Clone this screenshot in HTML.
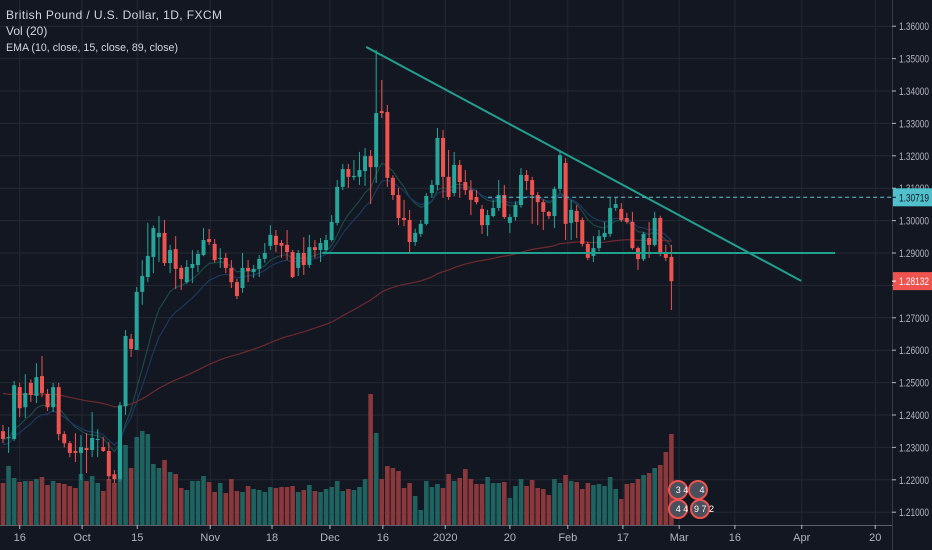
<!DOCTYPE html>
<html><head><meta charset="utf-8"><style>
html,body{margin:0;padding:0;background:#131722;}
svg{display:block;font-family:"Liberation Sans",sans-serif;}
</style></head><body>
<svg id="chart" width="932" height="550" viewBox="0 0 932 550" xmlns="http://www.w3.org/2000/svg">
<rect width="932" height="550" fill="#131722"/>
<g id="grid"></g>
<g id="vol"></g>
<g id="ema"></g>
<g id="candles"></g>
<g id="draw"></g>
<g id="axes"></g>
<text x="6" y="19" fill="#d1d4dc" font-size="12" textLength="216">British Pound / U.S. Dollar, 1D, FXCM</text>
<text x="6" y="35" fill="#d1d4dc" font-size="12">Vol (20)</text>
<text x="6" y="51" fill="#d1d4dc" font-size="11" textLength="172" lengthAdjust="spacingAndGlyphs">EMA (10, close, 15, close, 89, close)</text>
</svg>
<script>
const opens=[1.2350,1.2329,1.2326,1.2486,1.2424,1.2499,1.2459,1.2520,1.2465,1.2424,
1.2486,1.2341,1.2313,1.2289,1.2283,1.2298,1.2292,1.2323,1.2301,1.2289,
1.2217,1.2202,1.2427,1.2635,1.2601,1.2780,1.2826,1.2888,1.2949,1.2962,
1.2869,1.2912,1.2854,1.2810,1.2854,1.2863,1.2894,1.2943,1.2928,1.2882,
1.2885,1.2854,1.2810,1.2792,1.2854,1.2841,1.2851,1.2882,1.2922,1.2953,
1.2931,1.2925,1.2903,1.2854,1.2900,1.2863,1.2918,1.2909,1.2909,1.2940,
1.2993,1.3104,1.3159,1.3134,1.3135,1.3153,1.3199,1.3165,1.3338,1.3335,
1.3132,1.3079,1.3008,1.3002,1.2934,1.2959,1.2990,1.3085,1.3110,1.3255,
1.3135,1.3085,1.3172,1.3119,1.3094,1.3073,1.3036,1.2986,1.3014,1.3039,
1.3079,1.2993,1.3011,1.3048,1.3141,1.3125,1.3079,1.3057,1.3027,1.3014,
1.3098,1.3178,1.2993,1.3030,1.3002,1.2928,1.2891,1.2915,1.2949,1.2959,
1.3039,1.3036,1.3008,1.2996,1.2915,1.2881,1.2946,1.2925,1.3008,1.2897,1.2888];
const highs=[1.2369,1.2363,1.2505,1.2499,1.2526,1.2510,1.2560,1.2582,1.2480,1.2499,
1.2499,1.2350,1.2320,1.2344,1.2338,1.2344,1.2409,1.2356,1.2332,1.2317,
1.2230,1.2440,1.2662,1.2650,1.2795,1.2878,1.2993,1.2985,1.3014,1.3002,
1.2925,1.2952,1.2862,1.2878,1.2909,1.2909,1.2977,1.2974,1.2943,1.2915,
1.2900,1.2878,1.2820,1.2900,1.2878,1.2863,1.2894,1.2931,1.2986,1.2971,
1.2940,1.2971,1.2910,1.2909,1.2949,1.2956,1.2940,1.2946,1.2956,1.3017,
1.3125,1.3175,1.3175,1.3187,1.3212,1.3224,1.3218,1.3527,1.3434,1.3357,
1.3140,1.3101,1.3064,1.3033,1.2975,1.3002,1.3085,1.3125,1.3286,1.3280,
1.3218,1.3212,1.3187,1.3156,1.3125,1.3094,1.3048,1.3033,1.3064,1.3125,
1.3110,1.3020,1.3060,1.3162,1.3156,1.3135,1.3088,1.3065,1.3030,1.3105,
1.3212,1.3193,1.3064,1.3048,1.3010,1.2935,1.2952,1.2971,1.2996,1.3070,
1.3070,1.3054,1.3024,1.3027,1.2920,1.2965,1.2996,1.3027,1.3015,1.2925,1.2925];
const lows=[1.2313,1.2283,1.2320,1.2394,1.2391,1.2440,1.2437,1.2455,1.2412,1.2409,
1.2322,1.2300,1.2270,1.2255,1.2199,1.2221,1.2270,1.2270,1.2286,1.2199,
1.2190,1.2195,1.2400,1.2579,1.2610,1.2740,1.2810,1.2838,1.2872,1.2860,
1.2838,1.2789,1.2786,1.2805,1.2807,1.2841,1.2890,1.2925,1.2870,1.2854,
1.2838,1.2792,1.2758,1.2777,1.2810,1.2823,1.2826,1.2870,1.2909,1.2903,
1.2885,1.2878,1.2823,1.2829,1.2832,1.2854,1.2885,1.2872,1.2900,1.2935,
1.2985,1.3094,1.3101,1.3125,1.3110,1.3107,1.3051,1.3116,1.3317,1.3104,
1.3064,1.2986,1.2983,1.2903,1.2922,1.2950,1.2985,1.3070,1.3094,1.3070,
1.3064,1.3075,1.3070,1.3079,1.3017,1.3050,1.2959,1.2952,1.3010,1.3030,
1.3005,1.2962,1.3000,1.3040,1.3094,1.2990,1.2986,1.2971,1.3005,1.2977,
1.3090,1.2940,1.2940,1.2946,1.2920,1.2878,1.2872,1.2905,1.2940,1.2950,
1.3030,1.2996,1.2990,1.2910,1.2848,1.2875,1.2885,1.2920,1.2890,1.2875,1.2724];
const closes=[1.2326,1.2332,1.2492,1.2421,1.2468,1.2462,1.2517,1.2468,1.2424,1.2486,
1.2341,1.2313,1.2283,1.2283,1.2301,1.2292,1.2329,1.2326,1.2289,1.2211,
1.2202,1.2430,1.2644,1.2604,1.2780,1.2829,1.2891,1.2977,1.2962,1.2869,
1.2909,1.2851,1.2820,1.2857,1.2866,1.2897,1.2940,1.2934,1.2878,1.2885,
1.2854,1.2810,1.2767,1.2854,1.2844,1.2851,1.2882,1.2900,1.2956,1.2925,
1.2922,1.2903,1.2826,1.2900,1.2863,1.2918,1.2909,1.2931,1.2940,1.2996,
1.3104,1.3159,1.3135,1.3138,1.3156,1.3199,1.3165,1.3332,1.3332,1.3132,
1.3079,1.3008,1.3002,1.2934,1.2962,1.2990,1.3076,1.3110,1.3255,1.3135,
1.3073,1.3172,1.3119,1.3094,1.3064,1.3057,1.2986,1.3017,1.3039,1.3079,
1.3011,1.3011,1.3048,1.3141,1.3122,1.3079,1.3057,1.3027,1.3014,1.3098,
1.3202,1.2990,1.3033,1.2996,1.2928,1.2885,1.2915,1.2952,1.2962,1.3039,
1.3051,1.3002,1.2996,1.2915,1.2881,1.2959,1.2925,1.3008,1.2897,1.2885,1.2813];
const volumes=[42,59,47,43,44,44,46,48,40,44,
42,41,39,37,51,44,49,42,34,46,
42,80,80,57,88,94,91,61,57,65,
53,51,37,35,44,44,49,43,33,42,
32,46,34,33,39,36,35,33,38,37,
38,38,39,33,35,40,34,33,36,38,
44,34,36,35,38,46,131,92,46,59,
57,54,37,42,29,15,44,38,41,37,
51,44,47,56,46,41,41,48,42,42,
43,27,39,46,39,45,37,36,30,46,
42,50,44,43,36,42,40,41,39,48,
36,26,41,42,46,50,52,57,60,73,91];
const priceTicks=[1.36,1.35,1.34,1.33,1.32,1.31,1.30,1.29,1.28,1.27,1.26,1.25,1.24,1.23,1.22,1.21];
const dateLabels=["16","Oct","15","Nov","18","Dec","16","2020","20","Feb","17","Mar","16","Apr","20"];
const dateIdx=[3,14.2,24.1,37.2,48.3,58.7,68.2,79.4,91,101.4,111.3,121.4,131.4,143.4,156.6];
const lastPrice=1.28132, dashedPrice=1.30719;
const descLine=[[65.2,1.3536],[143.3,1.2814]];
const horizLine=[[57.3,1.2900],[149.4,1.2900]];
const ema89Seed=1.2470;

const NS="http://www.w3.org/2000/svg";
const X0=3, STEP=5.57, PLOT_R=892, AXIS_Y=525;
const xS=i=>X0+STEP*i;
const yS=p=>253-(p-1.29)*3240;
const volY=v=>AXIS_Y-v*1.0;
function mk(tag,attrs,parent){const e=document.createElementNS(NS,tag);for(const k in attrs)e.setAttribute(k,attrs[k]);parent.appendChild(e);return e;}
const G=id=>document.getElementById(id);
const UP="#26a69a", DN="#ef5350";

priceTicks.forEach(p=>{const l=mk('line',{x1:0,x2:PLOT_R,y1:yS(p),y2:yS(p),stroke:"#242833","stroke-width":1},G('grid'));

});
dateIdx.forEach(d=>{const l=mk('line',{x1:xS(d),x2:xS(d),y1:0,y2:AXIS_Y,stroke:"#242833","stroke-width":1},G('grid'));

});

volumes.forEach((v,i)=>{const up=closes[i]>=opens[i];
const r=mk('rect',{x:xS(i)-2.3,y:volY(v),width:4.6,height:AXIS_Y-volY(v),fill:up?"#1f6360":"#8a383b"},G('vol'));

});

function ema(period,seed){const a=2/(period+1);let e=seed;return closes.map(c=>{e=a*c+(1-a)*e;return e;});}
[[10,closes[0],"#1a4a47"],[15,closes[0]-0.002,"#1c3860"],[89,ema89Seed,"#6e2a2f"]].forEach(([p,s,col])=>{
const vals=ema(p,s);const d=vals.map((v,i)=>(i?'L':'M')+xS(i).toFixed(1)+','+yS(v).toFixed(1)).join('');
const pa=mk('path',{d:d,fill:"none",stroke:col,"stroke-width":1.2},G('ema'));

});

closes.forEach((c,i)=>{const o=opens[i],up=c>=o,col=up?UP:DN,x=xS(i);
const g=mk('g',{},G('candles'));


mk('line',{x1:x,x2:x,y1:yS(highs[i]),y2:yS(lows[i]),stroke:col,"stroke-width":1},g);
const t=yS(Math.max(o,c)),b=yS(Math.min(o,c));
mk('rect',{x:x-2,y:t,width:4,height:Math.max(1,b-t),fill:col},g);});

const dl=mk('line',{x1:xS(descLine[0][0]),y1:yS(descLine[0][1]),x2:xS(descLine[1][0]),y2:yS(descLine[1][1]),stroke:"#22a08e","stroke-width":2},G('draw'));


const hl=mk('line',{x1:xS(horizLine[0][0]),y1:yS(horizLine[0][1]),x2:xS(horizLine[1][0]),y2:yS(horizLine[1][1]),stroke:"#22a08e","stroke-width":2},G('draw'));


const dsh=mk('line',{x1:xS(87.1),x2:PLOT_R,y1:yS(dashedPrice),y2:yS(dashedPrice),stroke:"#5fc6d2","stroke-width":1,"stroke-dasharray":"4,3"},G('draw'));



const ax=G('axes');
const va=mk('line',{x1:PLOT_R+0.5,x2:PLOT_R+0.5,y1:0,y2:550,stroke:"#363a45","stroke-width":1},ax);


const ha=mk('line',{x1:0,x2:PLOT_R,y1:AXIS_Y+0.5,y2:AXIS_Y+0.5,stroke:"#5d606b","stroke-width":1},ax);


priceTicks.forEach(p=>{
const tk=mk('line',{x1:PLOT_R,x2:PLOT_R+4,y1:yS(p),y2:yS(p),stroke:"#b2b5be"},ax);


const t=mk('text',{x:PLOT_R+7,y:yS(p)+4,fill:"#b2b5be","font-size":11,textLength:30,lengthAdjust:"spacingAndGlyphs"},ax);t.textContent=p.toFixed(5);

});
dateLabels.forEach((s,i)=>{const x=xS(dateIdx[i]);
const tk=mk('line',{x1:x,x2:x,y1:AXIS_Y,y2:AXIS_Y+4,stroke:"#b2b5be"},ax);


const t=mk('text',{x:x,y:541,fill:"#b2b5be","font-size":11,"text-anchor":"middle"},ax);t.textContent=s;

});
function tag(p,bg,fg,name){const y=yS(p);
const g=mk('g',{},ax);


mk('rect',{x:PLOT_R+1,y:y-9,width:40,height:18,fill:bg},g);
mk('line',{x1:PLOT_R,x2:PLOT_R+4,y1:y,y2:y,stroke:fg},g);
const t=mk('text',{x:PLOT_R+7,y:y+4,fill:fg,"font-size":11,textLength:30,lengthAdjust:"spacingAndGlyphs"},g);t.textContent=p.toFixed(5);}
tag(dashedPrice,"#4fc0cc","#131722",'dashed-price-label');
tag(lastPrice,"#ef5350","#ffffff",'last-price-label');

const badges=[[678,490,"3 4"],[698,490,"4"],[678,509,"4 4"],[700,509,"9 7 2"]];
badges.forEach(([x,y,s])=>{const g=mk('g',{},ax);


mk('circle',{cx:x,cy:y,r:9,fill:"#4a4f5c",stroke:"#ef5350","stroke-width":2},g);
const t=mk('text',{x:x+4,y:y+3,fill:"#ffffff","font-size":9,"text-anchor":"middle"},g);t.textContent=s;});
</script>
</body></html>
